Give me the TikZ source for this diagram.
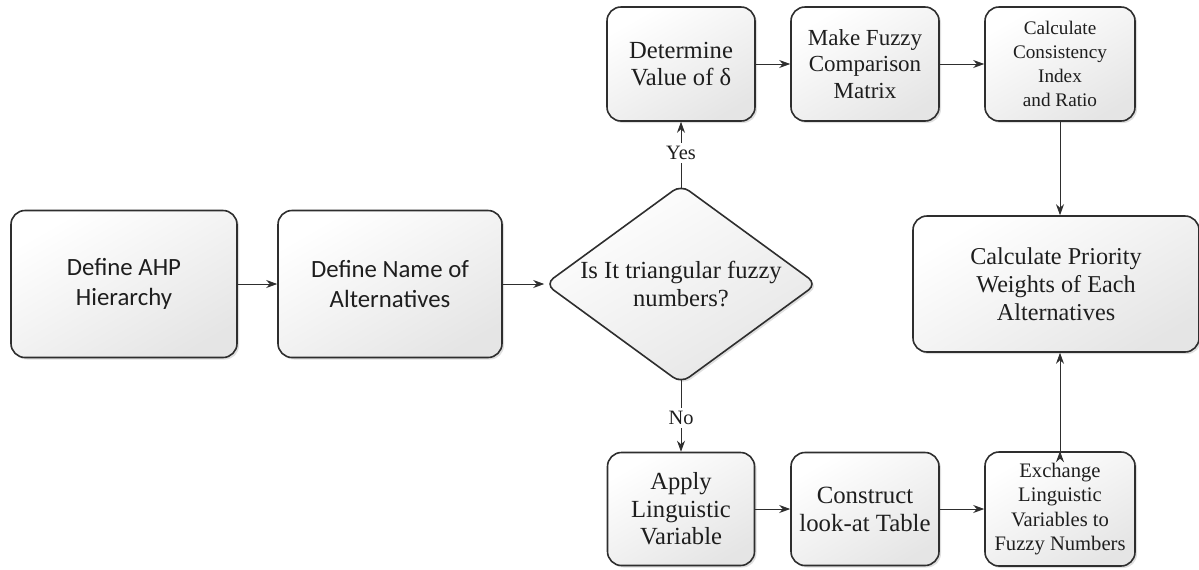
\documentclass[tikz,border=0pt]{standalone}
\usepackage{fontspec}
\setmainfont{Liberation Serif}
\newfontfamily\carlito{Carlito}
\newfontfamily\timesfont{Liberation Serif}
\usetikzlibrary{shapes.geometric, positioning, arrows.meta, shadows}
\definecolor{boxline}{HTML}{2E2E2E}
\definecolor{boxtext}{HTML}{1E1E1E}
\tikzset{
  >={Stealth[length=5.5pt, width=4pt]},
  line width=0.65pt,
  % every box of the flow chart
  process/.style={rectangle, rounded corners=7pt, draw=boxline, line width=0.8pt,
    top color=white, bottom color=black!10, shading angle=30,
    drop shadow={opacity=0.25, shadow xshift=1pt, shadow yshift=-1pt},
    text=boxtext, align=center, inner sep=1pt},
  decision/.style={diamond, rounded corners=5pt, draw=boxline, line width=0.8pt,
    top color=white, bottom color=black!10, shading angle=30,
    drop shadow={opacity=0.25, shadow xshift=1pt, shadow yshift=-1pt},
    text=boxtext, align=center, inner sep=-6pt},
  answer/.style={fill=white, inner sep=1.5pt, text=boxtext, font=\timesfont\fontsize{10.2}{12}\selectfont},
  sans text/.style={font=\carlito\fontsize{12.4}{15}\selectfont},
  big text/.style={font=\timesfont\fontsize{12.3}{13.8}\selectfont},
  small text/.style={font=\timesfont\fontsize{9.6}{12}\selectfont}
}

\begin{document}
\begin{tikzpicture}

    \useasboundingbox (0,0) rectangle (599.5pt,-284.5pt);

    \node[process, sans text, minimum width=113pt, minimum height=73.5pt] (define_ahp) at (62pt,-142pt) {Define AHP\\Hierarchy};
    \node[process, sans text, minimum width=112pt, minimum height=73.5pt, right of=define_ahp, node distance=133pt] (define_names) {Define Name of\\Alternatives};

    \node[decision, big text, minimum width=136pt, minimum height=92.5pt, right of=define_names, node distance=145.5pt] (is_triangular) {Is It triangular fuzzy\\numbers?};

    % upper row
    \node[process, big text, minimum width=74pt, minimum height=57pt, above of=is_triangular, node distance=110pt] (determine_delta) {Determine\\Value of δ};
    \node[process, font=\timesfont\fontsize{11.5}{13.3}\selectfont, minimum width=74pt, minimum height=57pt, right of=determine_delta, node distance=92pt] (make_matrix) {Make Fuzzy\\Comparison\\Matrix};
    \node[process, small text, minimum width=75pt, minimum height=57pt, right of=make_matrix, node distance=97.5pt] (calc_consistency) {Calculate\\Consistency\\Index\\and Ratio};

    \node[process, font=\timesfont\fontsize{12.1}{14}\selectfont, minimum width=143pt, minimum height=68pt, below of=calc_consistency, node distance=110pt, xshift=-2pt] (calc_priority) {Calculate Priority\\Weights of Each\\Alternatives};

    % lower row
    \node[process, big text, minimum width=73.5pt, minimum height=56.5pt, below of=is_triangular, node distance=112.5pt] (apply_variable) {Apply\\Linguistic\\Variable};
    \node[process, font=\timesfont\fontsize{12.4}{14}\selectfont, minimum width=74pt, minimum height=56.5pt, right of=apply_variable, node distance=92pt] (construct_table) {Construct\\look-at Table};
    \node[process, font=\timesfont\fontsize{10.3}{12.2}\selectfont, minimum width=75pt, minimum height=57pt, right of=construct_table, node distance=97.5pt] (exchange_variables) {Exchange\\Linguistic\\Variables to\\Fuzzy Numbers};

    \draw[->, boxline]
      (define_ahp) edge (define_names)
      (define_names) edge (is_triangular)
      (is_triangular) edge[shorten <=-2pt] node[answer]{Yes} (determine_delta)
      (is_triangular) edge[shorten <=-2pt] node[answer]{No} (apply_variable)
      (determine_delta) edge (make_matrix)
      (make_matrix) edge (calc_consistency)
      (apply_variable) edge (construct_table)
      (construct_table) edge (exchange_variables)
      (calc_consistency.south) edge (calc_consistency.south |- calc_priority.north)
      (exchange_variables.north) edge (exchange_variables.north |- calc_priority.south)
      ;
  \end{tikzpicture}
\end{document}
